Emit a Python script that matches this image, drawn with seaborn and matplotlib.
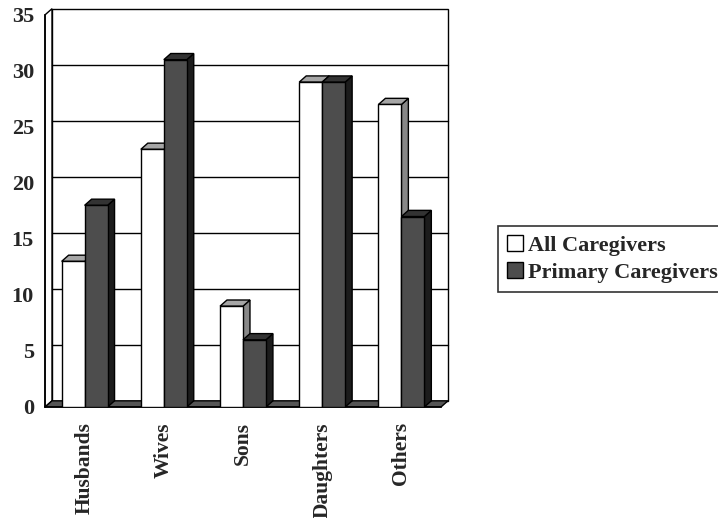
import pandas as pd
import seaborn as sns
import matplotlib.pyplot as plt
from matplotlib.patches import Polygon, Patch

relations = ["Husbands", "Wives", "Sons", "Daughters", "Others"]
all_caregivers = [13, 23, 9, 29, 27]
primary_caregivers = [18, 31, 6, 29, 17]
groups = ["All Caregivers", "Primary Caregivers"]
y_ticks = [0, 5, 10, 15, 20, 25, 30, 35]

df = pd.DataFrame({
    "relation": relations * 2,
    "percent": all_caregivers + primary_caregivers,
    "group": [groups[0]] * len(relations) + [groups[1]] * len(relations),
})

sns.set_style("white")
plt.rcParams["font.family"] = ["Liberation Serif", "DejaVu Serif"]
plt.rcParams["font.weight"] = "bold"

fig = plt.figure(figsize=(7.18, 5.18), dpi=100)
ax = fig.add_axes([0.0627, 0.2143, 0.5515, 0.757])

front = {groups[0]: "white", groups[1]: "#4d4d4d"}
top = {groups[0]: "#a6a6a6", groups[1]: "#333333"}
side = {groups[0]: "#888888", groups[1]: "#1c1c1c"}

sns.barplot(data=df, x="relation", y="percent", hue="group",
            palette=front, width=0.58, edgecolor="black", linewidth=1,
            legend=False, ax=ax)

# keep the bars with their group before adding any other patches
bars = []
for g, cont in zip(groups, ax.containers):
    for b in cont:
        bars.append((b, g))
bars = sorted(bars, key=lambda t: t[0].get_x())

ymax = y_ticks[-1]
xl, xr = -0.5, len(relations) - 0.5
dx, dy = 0.088, 0.55  # depth of the fake 3d box

ax.set_xlim(xl, xr)
ax.set_ylim(0, ymax)

# back wall, left wall and floor
ax.add_patch(Polygon([(xl + dx, dy), (xr + dx, dy), (xr + dx, ymax + dy), (xl + dx, ymax + dy)],
                     closed=True, facecolor="white", edgecolor="black", lw=1, zorder=0.5, clip_on=False))
ax.add_patch(Polygon([(xl, 0), (xl + dx, dy), (xl + dx, ymax + dy), (xl, ymax)],
                     closed=True, facecolor="white", edgecolor="black", lw=1, zorder=0.6, clip_on=False))
for t in y_ticks[1:-1]:
    ax.plot([xl + dx, xr + dx], [t + dy, t + dy], color="black", lw=1, zorder=1, clip_on=False)
ax.add_patch(Polygon([(xl, 0), (xr, 0), (xr + dx, dy), (xl + dx, dy)],
                     closed=True, facecolor="#555555", edgecolor="black", lw=1, zorder=1.5, clip_on=False))

# top and side faces for every bar
for k, (b, g) in enumerate(bars):
    x0, w, h = b.get_x(), b.get_width(), b.get_height()
    z = 3 + k
    ax.add_patch(Polygon([(x0 + w, 0), (x0 + w + dx, dy), (x0 + w + dx, h + dy), (x0 + w, h)],
                         closed=True, facecolor=side[g], edgecolor="black", lw=1, zorder=z, clip_on=False))
    ax.add_patch(Polygon([(x0, h), (x0 + dx, h + dy), (x0 + w + dx, h + dy), (x0 + w, h)],
                         closed=True, facecolor=top[g], edgecolor="black", lw=1, zorder=z, clip_on=False))
    b.set_zorder(z + 0.5)

sns.despine(ax=ax, top=True, right=True)
for s in ["left", "bottom"]:
    ax.spines[s].set_color("black")
    ax.spines[s].set_linewidth(1.2)

ax.set_yticks(y_ticks)
ax.set_yticklabels([str(t) for t in y_ticks], fontsize=16, fontweight="bold")
ax.tick_params(axis="y", direction="out", length=6, width=1.2, color="black", pad=2)

ax.set_xticks(range(len(relations)))
ax.set_xticklabels(relations, rotation=90, fontsize=15.5, fontweight="bold")
ax.set_xticks([i - 0.5 for i in range(len(relations) + 1)], minor=True)
ax.tick_params(axis="x", which="major", length=0, pad=11)
ax.tick_params(axis="x", which="minor", direction="out", length=5, width=1.2, color="black")
ax.set_xlabel("")
ax.set_ylabel("")
ax.grid(False)

handles = [Patch(facecolor=front[g], edgecolor="black", label=g) for g in groups]
leg = ax.legend(handles=handles, loc="center left", bbox_to_anchor=(0.694, 0.5),
                bbox_transform=fig.transFigure, frameon=True, fancybox=False,
                edgecolor="black", handlelength=0.7, handleheight=0.7,
                handletextpad=0.25, borderpad=0.4, labelspacing=0.3,
                borderaxespad=0, prop={"size": 16, "weight": "bold"})
leg.get_frame().set_linewidth(1.2)

fig.savefig("out.png", dpi=100)
